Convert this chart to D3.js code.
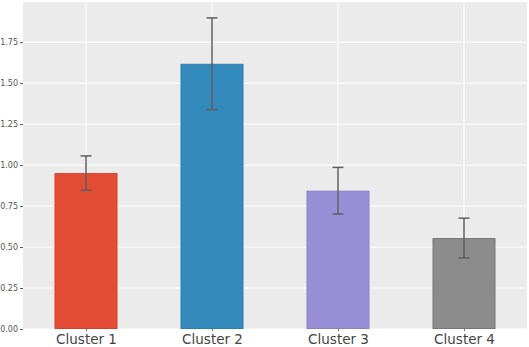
<!DOCTYPE html>
<html>
<head>
<meta charset="utf-8">
<script src="https://cdn.jsdelivr.net/npm/d3@7"></script>
<style>
  body { margin: 0; background: #fff; }
  svg { display: block; }
</style>
</head>
<body>
<div id="chart"></div>
<script>
const clusters = ["Cluster 1", "Cluster 2", "Cluster 3", "Cluster 4"];
const means = [0.951, 1.618, 0.844, 0.555];
const errors = [0.105, 0.28, 0.142, 0.121];
const fills = ["#E34D36", "#348ABD", "#988ED5", "#8C8C8C"];
const edges = ["#D6402A", "#2C7EB0", "#8A80C8", "#777777"];
const yTicks = [0, 0.25, 0.5, 0.75, 1.0, 1.25, 1.5, 1.75];

const width = 529,
    height = 347,
    margin = ({ top: 2, right: 2, bottom: 18, left: 23 });

const svg = d3.select("#chart")
    .append("svg")
    .attr("width", width)
    .attr("height", height);

let x = d3.scaleLinear()
    .domain([-0.5, clusters.length - 0.5])
    .range([margin.left, width - margin.right]);

let y = d3.scaleLinear()
    .domain([0, 1.995])
    .range([height - margin.bottom, margin.top]);

const barW = x(0.5) - x(0);

// panel background
svg.append("rect")
    .attr("x", margin.left)
    .attr("y", margin.top)
    .attr("width", width - margin.right - margin.left)
    .attr("height", height - margin.bottom - margin.top)
    .attr("fill", "#EBEBEB");

// grid
svg.append("g")
    .selectAll("line")
    .data(yTicks)
    .join("line")
    .attr("x1", margin.left)
    .attr("x2", width - margin.right)
    .attr("y1", d => y(d))
    .attr("y2", d => y(d))
    .attr("stroke", "#fff")
    .attr("stroke-width", 1);

svg.append("g")
    .selectAll("line")
    .data(clusters)
    .join("line")
    .attr("x1", (d, i) => x(i))
    .attr("x2", (d, i) => x(i))
    .attr("y1", margin.top)
    .attr("y2", height - margin.bottom)
    .attr("stroke", "#fff")
    .attr("stroke-width", 1);

// bars
svg.append("g")
    .selectAll("rect")
    .data(means)
    .join("rect")
    .attr("x", (d, i) => x(i) - barW / 2 + 0.5)
    .attr("y", d => y(d) + 0.5)
    .attr("width", barW - 1)
    .attr("height", d => y(0) - y(d) - 1)
    .attr("fill", (d, i) => fills[i])
    .attr("stroke", (d, i) => edges[i])
    .attr("stroke-width", 1);

// error bars
const err = svg.append("g")
    .attr("stroke", "#5f5f5f")
    .attr("stroke-width", 1.5);

err.selectAll(".stem")
    .data(means)
    .join("line")
    .attr("class", "stem")
    .attr("x1", (d, i) => x(i))
    .attr("x2", (d, i) => x(i))
    .attr("y1", (d, i) => y(d - errors[i]))
    .attr("y2", (d, i) => y(d + errors[i]));

err.selectAll(".capTop")
    .data(means)
    .join("line")
    .attr("class", "capTop")
    .attr("x1", (d, i) => x(i) - 5.5)
    .attr("x2", (d, i) => x(i) + 5.5)
    .attr("y1", (d, i) => y(d + errors[i]))
    .attr("y2", (d, i) => y(d + errors[i]));

err.selectAll(".capBot")
    .data(means)
    .join("line")
    .attr("class", "capBot")
    .attr("x1", (d, i) => x(i) - 5.5)
    .attr("x2", (d, i) => x(i) + 5.5)
    .attr("y1", (d, i) => y(d - errors[i]))
    .attr("y2", (d, i) => y(d - errors[i]));

// axes
const yAxis = svg.append("g")
    .attr("transform", `translate(${margin.left},0)`)
    .call(d3.axisLeft(y).tickValues(yTicks).tickFormat(d3.format(".2f")).tickSize(3).tickPadding(2));
yAxis.select(".domain").remove();
yAxis.selectAll("line").attr("stroke", "#555");
yAxis.selectAll("text")
    .attr("fill", "#555")
    .style("font-family", "DejaVu Sans")
    .style("font-size", "8px");

const xAxis = svg.append("g")
    .attr("transform", `translate(0,${height - margin.bottom})`)
    .call(d3.axisBottom(x).tickValues(d3.range(clusters.length)).tickFormat(i => clusters[i]).tickSize(2).tickPadding(3));
xAxis.select(".domain").remove();
xAxis.selectAll("line").attr("stroke", "#777");
xAxis.selectAll("text")
    .attr("fill", "#444")
    .style("font-family", "DejaVu Sans")
    .style("font-size", "13.5px");
</script>
</body>
</html>
